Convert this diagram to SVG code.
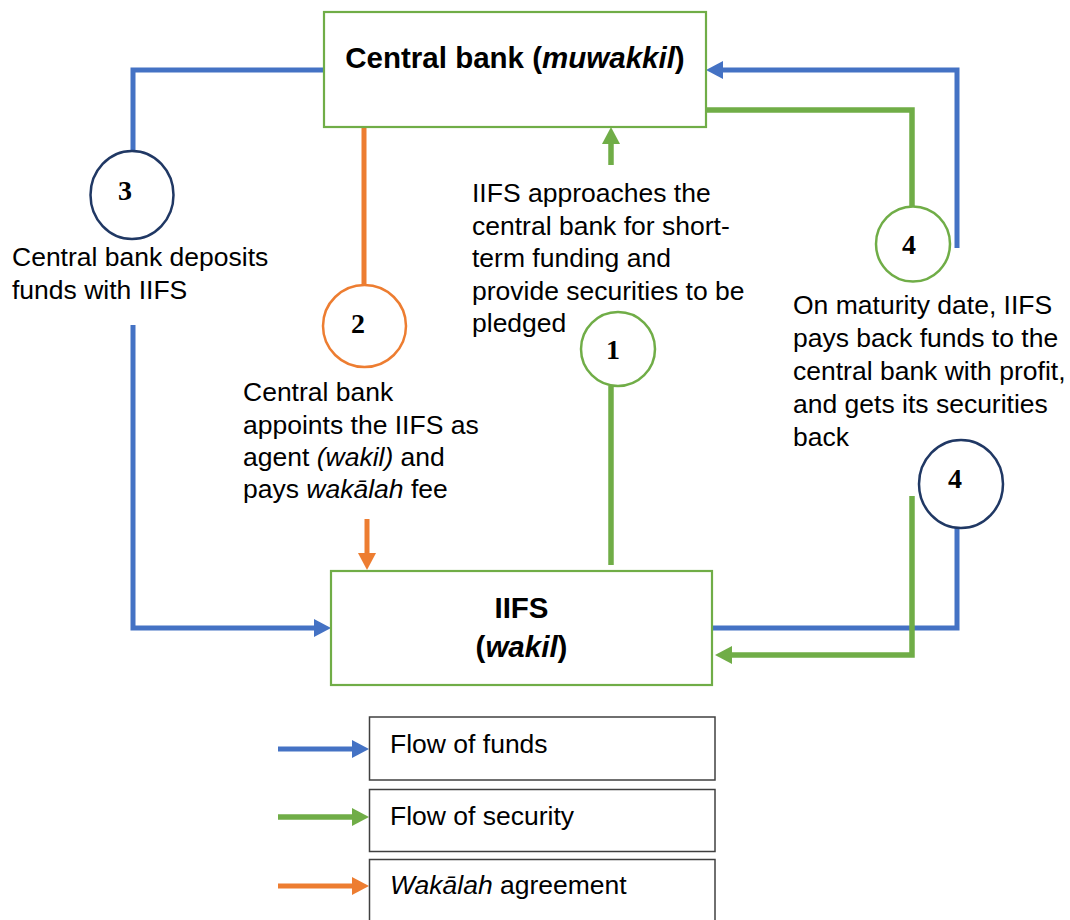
<svg xmlns="http://www.w3.org/2000/svg" width="1070" height="920" viewBox="0 0 1070 920">
  <style>
    .box { fill: #ffffff; stroke: #70AD47; stroke-width: 2.2; }
    .leg { fill: #ffffff; stroke: #404040; stroke-width: 1.5; }
    .title { font-family: "Liberation Sans", Arial, sans-serif; font-size: 29.5px; font-weight: bold; fill: #000; }
    .txt { font-family: "Liberation Sans", Arial, sans-serif; font-size: 26.5px; fill: #000; }
    .num { font-family: "Liberation Serif", "Times New Roman", serif; font-size: 28px; font-weight: bold; fill: #000; text-anchor: middle; }
    .it { font-style: italic; }
    .blue { fill: none; stroke: #4472C4; stroke-width: 5; }
    .green { fill: none; stroke: #70AD47; stroke-width: 5.5; }
    .orange { fill: none; stroke: #ED7D31; stroke-width: 5; }
    .cb { fill: #ffffff; stroke: #203864; stroke-width: 2.5; }
    .cg { fill: #ffffff; stroke: #70AD47; stroke-width: 2.5; }
    .co { fill: #ffffff; stroke: #ED7D31; stroke-width: 2.5; }
  </style>
  <defs>
    <marker id="ab" viewBox="0 0 17 18" refX="7" refY="9" markerWidth="17" markerHeight="18" markerUnits="userSpaceOnUse" orient="auto">
      <path d="M0,0 L17,9 L0,18 Z" fill="#4472C4"/>
    </marker>
    <marker id="ag" viewBox="0 0 17 18" refX="7" refY="9" markerWidth="17" markerHeight="18" markerUnits="userSpaceOnUse" orient="auto">
      <path d="M0,0 L17,9 L0,18 Z" fill="#70AD47"/>
    </marker>
    <marker id="ao" viewBox="0 0 17 18" refX="7" refY="9" markerWidth="17" markerHeight="18" markerUnits="userSpaceOnUse" orient="auto">
      <path d="M0,0 L17,9 L0,18 Z" fill="#ED7D31"/>
    </marker>
  </defs>

  <g id="connectors">
    <polyline class="blue" points="324,70 133,70 133,151"/>
    <polyline class="blue" points="133,325 133,628 321,628" marker-end="url(#ab)"/>
    <line class="orange" x1="364" y1="127" x2="364" y2="285"/>
    <line class="orange" x1="367" y1="519" x2="367" y2="560" marker-end="url(#ao)"/>
    <line class="green" x1="611" y1="386" x2="611" y2="565"/>
    <line class="green" x1="611" y1="165" x2="611" y2="137" marker-end="url(#ag)"/>
    <polyline class="blue" points="957,248 957,70 716,70" marker-end="url(#ab)"/>
    <polyline class="green" points="706,110 912,110 912,207"/>
    <polyline class="blue" points="957,528 957,628 712,628"/>
    <polyline class="green" points="912,496 912,655 725,655" marker-end="url(#ag)"/>
  </g>

  <g id="central-bank">
    <rect class="box" x="324" y="12" width="382" height="115"/>
    <text class="title" x="515" y="68" text-anchor="middle">Central bank (<tspan class="it">muwakkil</tspan>)</text>
  </g>

  <g id="iifs">
    <rect class="box" x="331" y="571" width="381" height="114"/>
    <text class="title" x="521.5" y="618" text-anchor="middle">IIFS</text>
    <text class="title" x="521.5" y="657" text-anchor="middle">(<tspan class="it">wakil</tspan>)</text>
  </g>

  <g id="step3">
    <ellipse class="cb" cx="132" cy="195" rx="41.5" ry="44"/>
    <text class="num" x="125" y="200">3</text>
    <text class="txt" x="12" y="266">Central bank deposits</text>
    <text class="txt" x="12" y="299">funds with IIFS</text>
  </g>

  <g id="step2">
    <ellipse class="co" cx="364.5" cy="326" rx="41.5" ry="41"/>
    <text class="num" x="358" y="333">2</text>
    <text class="txt" x="243" y="401">Central bank</text>
    <text class="txt" x="243" y="434">appoints the IIFS as</text>
    <text class="txt" x="243" y="466">agent <tspan class="it">(wakil)</tspan> and</text>
    <text class="txt" x="243" y="498">pays <tspan class="it">wakālah</tspan> fee</text>
  </g>

  <g id="step1">
    <ellipse class="cg" cx="618" cy="349" rx="37" ry="37"/>
    <text class="num" x="613" y="359">1</text>
    <text class="txt" x="472" y="202">IIFS approaches the</text>
    <text class="txt" x="472" y="234.5">central bank for short-</text>
    <text class="txt" x="472" y="267">term funding and</text>
    <text class="txt" x="472" y="299.5">provide securities to be</text>
    <text class="txt" x="472" y="332">pledged</text>
  </g>

  <g id="step4-security">
    <ellipse class="cg" cx="913" cy="244" rx="37" ry="37.5"/>
    <text class="num" x="909" y="254">4</text>
    <text class="txt" x="793" y="314">On maturity date, IIFS</text>
    <text class="txt" x="793" y="347">pays back funds to the</text>
    <text class="txt" x="793" y="380">central bank with profit,</text>
    <text class="txt" x="793" y="413">and gets its securities</text>
    <text class="txt" x="793" y="446">back</text>
  </g>

  <g id="step4-funds">
    <ellipse class="cb" cx="961" cy="484" rx="42" ry="44"/>
    <text class="num" x="955" y="488">4</text>
  </g>

  <g id="legend">
    <line class="blue" x1="278" y1="749" x2="359" y2="749" marker-end="url(#ab)"/>
    <rect class="leg" x="369.5" y="717" width="345.5" height="63"/>
    <text class="txt" x="390" y="753">Flow of funds</text>
    <line class="green" x1="278" y1="817" x2="359" y2="817" marker-end="url(#ag)"/>
    <rect class="leg" x="369.5" y="789.5" width="345.5" height="62"/>
    <text class="txt" x="390" y="825">Flow of security</text>
    <line class="orange" x1="278" y1="886" x2="359" y2="886" marker-end="url(#ao)"/>
    <rect class="leg" x="369.5" y="859.5" width="345.5" height="70"/>
    <text class="txt" x="390" y="894"><tspan class="it">Wakālah</tspan> agreement</text>
  </g>
</svg>
